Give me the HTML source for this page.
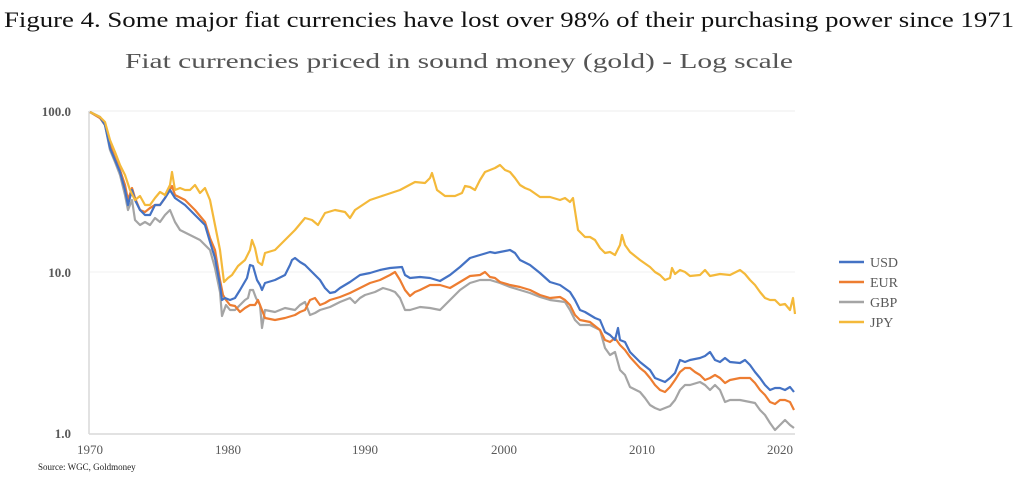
<!DOCTYPE html>
<html><head><meta charset="utf-8"><style>
body{margin:0;width:1024px;height:480px;background:#fff;overflow:hidden;font-family:"Liberation Serif",serif}
</style></head><body>
<svg width="1024" height="480" xmlns="http://www.w3.org/2000/svg" font-family="Liberation Serif, serif">
<text x="4" y="27" font-size="22" fill="#111" textLength="1010" lengthAdjust="spacingAndGlyphs">Figure 4. Some major fiat currencies have lost over 98% of their purchasing power since 1971</text>
<text x="125" y="68" font-size="21" fill="#555" textLength="668" lengthAdjust="spacingAndGlyphs">Fiat currencies priced in sound money (gold) - Log scale</text>
<line x1="89" y1="111" x2="795" y2="111" stroke="#eee" stroke-width="1"/>
<line x1="89" y1="272" x2="795" y2="272" stroke="#f2f2f2" stroke-width="1"/>
<line x1="89" y1="111" x2="89" y2="434" stroke="#d9d9d9" stroke-width="1.5"/>
<line x1="89" y1="434" x2="795" y2="434" stroke="#d9d9d9" stroke-width="1.5"/>
<g font-size="13" font-weight="bold" fill="#595959" text-anchor="end">
<text x="71" y="116">100.0</text><text x="71" y="277">10.0</text><text x="71" y="438">1.0</text></g>
<g font-size="13" fill="#595959" text-anchor="middle">
<text x="90" y="454">1970</text><text x="228" y="454">1980</text><text x="365" y="454">1990</text><text x="504" y="454">2000</text><text x="642" y="454">2010</text><text x="780" y="454">2020</text></g>
<text x="38" y="470" font-size="9" fill="#222">Source: WGC, Goldmoney</text>
<g fill="none" stroke-width="2.2" stroke-linejoin="round">
<polyline stroke="#a5a5a5" points="90,112 100,118 105,125 110,150 115,162 120,175 125,195 128,210 132,200 135,220 140,225 145,222 150,225 155,218 160,222 165,215 170,210 175,222 180,230 190,235 200,240 210,250 215,268 220,292 222,316 226,305 230,310 235,310 240,305 245,300 248,298 250,290 253,290 256,298 260,305 262,328 265,310 275,312 285,308 295,310 300,305 305,302 310,315 315,313 320,310 330,307 340,302 350,298 355,303 360,298 365,295 375,292 383,288 390,290 395,292 400,298 405,310 410,310 420,307 430,308 440,310 450,300 460,290 470,283 480,280 490,280 500,283 510,287 520,290 530,293 540,297 550,300 565,302 570,310 575,320 580,325 590,325 600,330 605,348 610,355 615,352 620,370 625,375 630,387 640,392 645,398 650,405 655,408 660,410 665,408 670,406 675,400 680,390 685,385 690,385 700,382 705,385 710,390 715,385 720,390 725,402 730,400 740,400 750,402 755,403 760,410 765,415 770,423 775,430 780,425 785,420 790,425 794,428"/>
<polyline stroke="#ed7d31" points="90,112 100,118 105,125 110,145 115,158 120,170 125,185 128,200 132,188 135,198 140,210 145,212 150,208 155,205 160,205 165,198 172,186 175,195 185,200 195,210 205,222 210,238 215,250 220,280 223,295 226,300 230,305 235,306 240,312 245,308 250,305 255,305 258,300 262,310 265,318 275,320 285,318 295,315 300,312 305,310 310,300 315,298 320,305 325,303 330,300 340,297 350,293 360,288 370,283 380,280 390,275 395,272 400,280 405,290 410,296 415,292 420,290 430,285 440,285 450,288 460,282 470,276 480,275 485,272 490,277 495,278 500,282 510,285 520,287 530,290 540,295 550,298 560,297 565,300 570,305 575,315 580,320 590,322 600,330 605,340 610,342 615,338 620,345 625,350 630,357 640,368 645,372 650,378 655,385 660,390 665,392 670,387 675,380 680,372 685,368 690,368 695,372 700,375 705,380 710,378 715,375 720,378 725,383 730,380 740,378 750,378 755,383 760,390 765,395 770,402 775,404 780,400 785,400 790,402 794,410"/>
<polyline stroke="#4472c4" points="90,112 100,117 105,125 110,148 115,160 120,172 125,190 128,205 132,190 135,200 140,210 145,215 150,215 155,205 160,205 165,198 170,190 175,198 185,205 195,215 205,225 210,242 215,258 220,285 222,300 225,298 230,300 235,298 240,290 247,278 250,265 253,266 257,280 260,285 262,290 265,283 275,280 285,275 290,265 292,260 295,258 300,262 305,265 315,275 320,280 325,288 330,293 335,292 340,288 350,282 360,275 370,273 380,270 390,268 402,267 405,275 410,278 420,277 430,278 440,281 450,275 460,267 470,258 480,255 490,252 495,253 500,252 510,250 515,253 520,260 530,265 540,273 550,282 560,285 570,292 575,300 580,310 585,312 595,318 600,320 605,332 610,335 615,340 618,328 620,340 625,342 630,352 640,362 650,370 655,378 660,380 665,382 670,378 675,373 680,360 685,362 690,360 700,358 705,356 710,352 715,360 720,362 725,358 730,362 740,363 745,360 750,365 755,372 760,378 765,385 770,390 775,388 780,388 785,390 790,387 794,392"/>
<polyline stroke="#f4b93a" points="90,112 100,117 105,122 110,140 115,152 120,165 125,175 130,190 135,200 140,196 145,205 150,205 155,198 160,192 165,195 170,185 172,172 175,190 180,188 185,190 190,190 195,185 200,193 205,188 210,200 215,225 220,250 224,282 228,278 232,275 238,266 245,260 250,250 252,240 255,248 258,262 262,265 265,253 275,250 285,240 295,230 305,218 312,220 318,225 325,213 335,210 345,212 350,218 355,210 370,200 385,195 400,190 415,182 425,183 430,178 432,173 437,190 445,196 455,196 462,193 465,186 470,187 475,190 480,180 485,172 490,170 495,168 500,165 505,170 510,172 515,178 520,185 525,188 530,190 540,197 550,197 560,200 565,198 570,202 573,198 578,230 585,237 590,237 595,240 600,248 605,253 610,252 615,255 620,245 622,235 625,245 630,252 640,260 650,267 655,272 660,275 665,280 670,278 672,268 675,274 680,270 685,272 690,276 700,275 705,270 710,276 720,274 730,275 740,270 745,274 750,280 755,285 760,292 765,298 770,300 775,300 780,305 785,304 790,310 793,298 795,314"/>
</g>
<g font-size="14" fill="#595959">
<line x1="839" y1="262" x2="864" y2="262" stroke="#4472c4" stroke-width="2.5"/><text x="870" y="267">USD</text>
<line x1="839" y1="282" x2="864" y2="282" stroke="#ed7d31" stroke-width="2.5"/><text x="870" y="287">EUR</text>
<line x1="839" y1="302" x2="864" y2="302" stroke="#a5a5a5" stroke-width="2.5"/><text x="870" y="307">GBP</text>
<line x1="839" y1="322" x2="864" y2="322" stroke="#f4b93a" stroke-width="2.5"/><text x="870" y="327">JPY</text>
</g>
</svg>
</body></html>
